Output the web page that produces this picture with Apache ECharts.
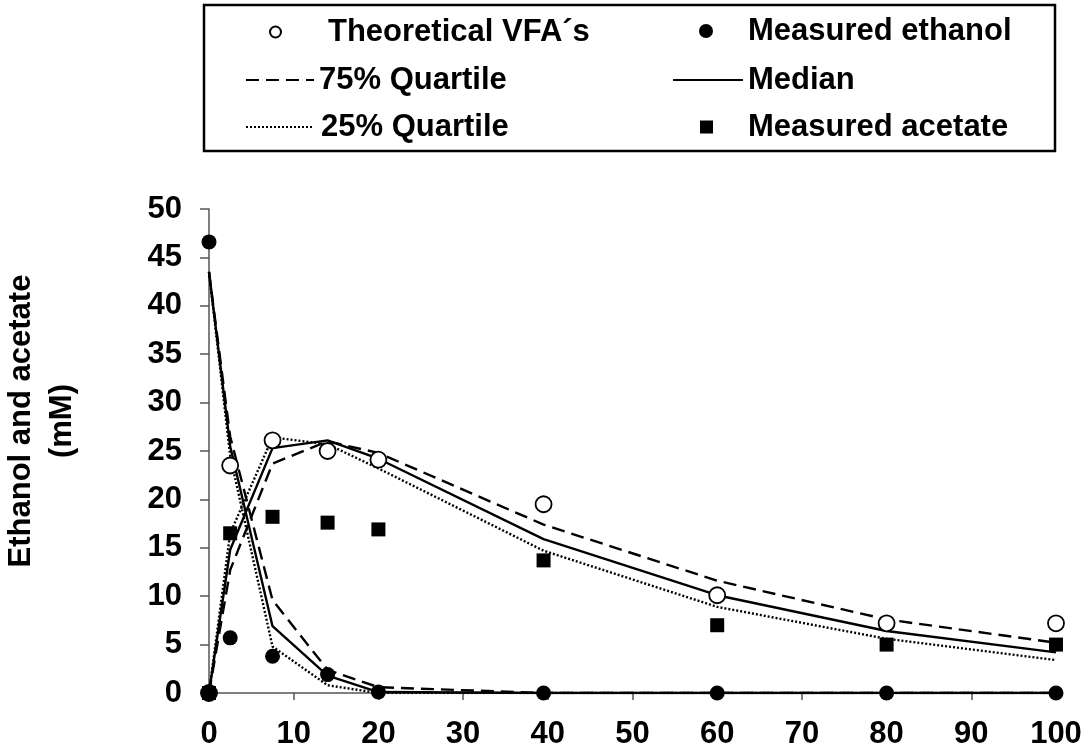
<!DOCTYPE html>
<html>
<head>
<meta charset="utf-8">
<script src="https://cdn.jsdelivr.net/npm/echarts@6/dist/echarts.min.js"></script>
<style>
  html, body { margin: 0; padding: 0; background: #fff; }
  #chart { width: 1088px; height: 751px; }
</style>
</head>
<body>
<div id="chart"></div>
<script>
// -- data --
let times = [0, 2.5, 7.5, 14, 20, 39.5, 60, 80, 100];

let theoreticalVfa = [0, 23.5, 26.1, 25.0, 24.1, 19.5, 10.1, 7.2, 7.2];
let measuredEthanol = [46.6, 5.7, 3.8, 1.9, 0.1, 0, 0, 0, 0];
let measuredAcetate = [0, 16.5, 18.2, 17.6, 16.9, 13.7, 7.0, 5.0, 5.0];

// model curves, acetate rising and ethanol falling
let q75Acetate = [0, 12.7, 23.7, 26.0, 24.8, 17.4, 11.6, 7.6, 5.2];
let medianAcetate = [0, 14.8, 25.3, 26.1, 24.2, 15.9, 10.1, 6.4, 4.2];
let q25Acetate = [0, 16.5, 26.4, 25.7, 23.2, 14.7, 8.9, 5.6, 3.4];

let q75Ethanol = [43.5, 26.5, 9.6, 2.4, 0.6, 0, 0, 0, 0];
let medianEthanol = [43.5, 25.5, 6.9, 1.8, 0.1, 0, 0, 0, 0];
let q25Ethanol = [43.5, 24.5, 4.8, 0.8, 0, 0, 0, 0, 0];

let xTicks = {min: 0, max: 100, interval: 10};
let yTicks = {min: 0, max: 50, interval: 5};

function pairs(ys) {
  return times.map(function (t, i) { return [t, ys[i]]; });
}

let font = 'Liberation Sans, Arial, sans-serif';

function lineSeries(name, ys, dash) {
  return {
    name: name,
    type: 'line',
    data: pairs(ys),
    symbol: 'none',
    z: 2,
    itemStyle: {color: '#000'},
    lineStyle: {color: '#000', width: 2.4, type: dash}
  };
}

// one legend per entry so the two columns line up like the original box
function legendAt(name, left, top, w, h, textPad, extra) {
  let lg = {
    data: [name],
    left: left,
    top: top,
    padding: 0,
    itemWidth: w,
    itemHeight: h,
    selectedMode: false,
    textStyle: {fontFamily: font, fontSize: 31, fontWeight: 'bold', color: '#000',
      lineHeight: 34, padding: [0, 0, 0, textPad]}
  };
  return Object.assign(lg, extra || {});
}

let lineKey = {itemStyle: {opacity: 0}, lineStyle: {width: 2}};

let option = {
  animation: false,
  backgroundColor: '#fff',
  graphic: [{
    type: 'rect',
    shape: {x: 204, y: 5, width: 851, height: 146},
    style: {fill: 'none', stroke: '#000', lineWidth: 2.5}
  }],
  legend: [
    legendAt('Theoretical VFA´s', 269, 15, 11, 11, 42),
    legendAt('75% Quartile', 245, 63, 68, 14, 0, lineKey),
    legendAt('25% Quartile', 245, 110, 68, 14, 2, lineKey),
    legendAt('Measured ethanol', 699, 14, 14, 14, 30),
    legendAt('Median', 672, 63, 70, 14, 0, lineKey),
    legendAt('Measured acetate', 700, 110, 13, 13, 30)
  ],
  grid: {left: 209, right: 32, top: 209, bottom: 58, outerBoundsMode: 'none', containLabel: false},
  xAxis: {
    type: 'value',
    min: xTicks.min,
    max: xTicks.max,
    interval: xTicks.interval,
    axisLine: {lineStyle: {color: '#555', width: 1.5}},
    axisTick: {length: 7, lineStyle: {color: '#555', width: 1.5}},
    axisLabel: {margin: 26, fontFamily: font, fontSize: 31, fontWeight: 'bold', color: '#000'},
    splitLine: {show: false}
  },
  yAxis: {
    type: 'value',
    min: yTicks.min,
    max: yTicks.max,
    interval: yTicks.interval,
    name: 'Ethanol and acetate\n(mM)',
    nameLocation: 'middle',
    nameGap: 126,
    nameTextStyle: {fontFamily: font, fontSize: 31, fontWeight: 'bold', color: '#000',
      lineHeight: 41, padding: [0, 0, 0, 60]},
    axisLine: {show: true, lineStyle: {color: '#555', width: 1.5}},
    axisTick: {show: true, length: 9, lineStyle: {color: '#555', width: 1.5}},
    axisLabel: {margin: 27, fontFamily: font, fontSize: 31, fontWeight: 'bold', color: '#000'},
    splitLine: {show: false}
  },
  series: [
    lineSeries('75% Quartile', q75Acetate, [13, 7]),
    lineSeries('75% Quartile', q75Ethanol, [13, 7]),
    lineSeries('Median', medianAcetate, 'solid'),
    lineSeries('Median', medianEthanol, 'solid'),
    lineSeries('25% Quartile', q25Acetate, [2, 2]),
    lineSeries('25% Quartile', q25Ethanol, [2, 2]),
    {
      name: 'Theoretical VFA´s',
      type: 'scatter',
      data: pairs(theoreticalVfa),
      symbol: 'circle',
      symbolSize: 16,
      z: 5,
      itemStyle: {color: '#fff', borderColor: '#000', borderWidth: 1.8, opacity: 1}
    },
    {
      name: 'Measured ethanol',
      type: 'scatter',
      data: pairs(measuredEthanol),
      symbol: 'circle',
      symbolSize: 15,
      z: 6,
      itemStyle: {color: '#000', opacity: 1}
    },
    {
      name: 'Measured acetate',
      type: 'scatter',
      data: pairs(measuredAcetate),
      symbol: 'rect',
      symbolSize: 14,
      z: 6,
      itemStyle: {color: '#000', opacity: 1}
    }
  ]
};

let myChart = echarts.init(document.getElementById('chart'));
myChart.setOption(option);
</script>
</body>
</html>
